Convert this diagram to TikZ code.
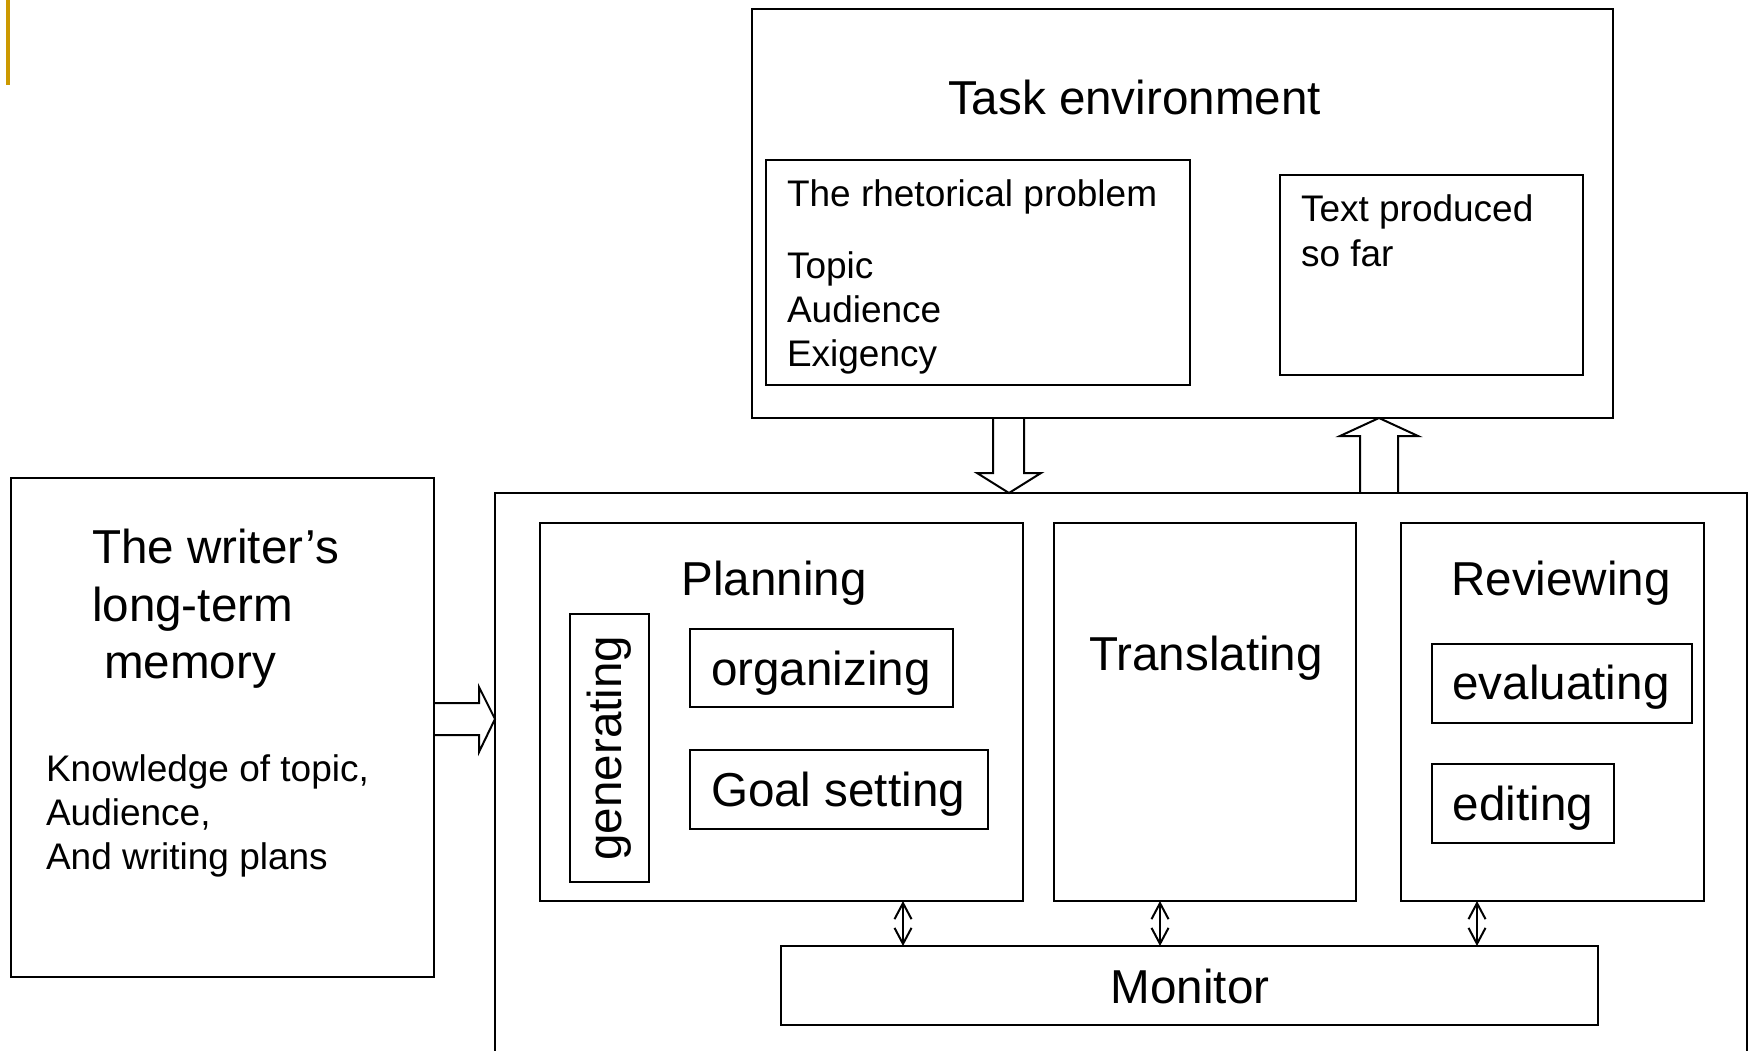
\documentclass[tikz,border=0pt]{standalone}
\usepackage{fontspec}
\setmainfont{Liberation Sans}
\usetikzlibrary{arrows.meta}
\definecolor{barcol}{HTML}{CC9900}
\begin{document}
\begin{tikzpicture}[x=1pt,y=-1pt,
  box/.style={draw, line width=2pt, inner sep=0pt, outer sep=0pt, anchor=north west},
  big/.style={font=\fontsize{47.6}{56}\selectfont},
  small/.style={font=\fontsize{37}{44}\selectfont},
  txt/.style={inner sep=0pt, outer sep=0pt},
  blockarrow/.style={draw, line width=2pt, line join=miter},
  dbl/.style={line width=2pt, {Straight Barb[length=16pt,width=17pt]}-{Straight Barb[length=16pt,width=17pt]}}
]
\useasboundingbox (0,0) rectangle (1752,1051);
\fill[white] (0,0) rectangle (1752,1051);
\fill[barcol] (6,0) rectangle (10,85);

% boxes
\node[box, minimum width=861pt, minimum height=409pt] (task) at (752,9) {};
\node[box, minimum width=424pt, minimum height=225pt] (rh) at (766,160) {};
\node[box, minimum width=303pt, minimum height=200pt] (tp) at (1280,175) {};
\node[box, minimum width=423pt, minimum height=499pt] (ltm) at (11,478) {};
\node[box, minimum width=1252pt, minimum height=620pt] (proc) at (495,493) {};
\node[box, minimum width=483pt, minimum height=378pt] (plan) at (540,523) {};
\node[box, minimum width=79pt, minimum height=268pt] (gen) at (570,614) {};
\node[box, minimum width=263pt, minimum height=78pt] (org) at (690,629) {};
\node[box, minimum width=298pt, minimum height=79pt] (goal) at (690,750) {};
\node[box, minimum width=302pt, minimum height=378pt] (trans) at (1054,523) {};
\node[box, minimum width=303pt, minimum height=378pt] (rev) at (1401,523) {};
\node[box, minimum width=260pt, minimum height=79pt] (eval) at (1432,644) {};
\node[box, minimum width=182pt, minimum height=79pt] (edit) at (1432,764) {};
\node[box, minimum width=817pt, minimum height=79pt] (mon) at (781,946) {};

% texts
\node[txt,big,anchor=base west] (tTask) at (948,115) {Task environment};
\node[txt,small,anchor=base west] (tRh) at (787,207) {The rhetorical problem};
\node[txt,small,anchor=base west] (tTopic) at (787,278) {Topic};
\node[txt,small,anchor=base west] (tAud) at (787,322) {Audience};
\node[txt,small,anchor=base west] (tExi) at (787,366) {Exigency};
\node[txt,small,anchor=base west] (tTp1) at (1301,222) {Text produced};
\node[txt,small,anchor=base west] (tTp2) at (1301,266) {so far};
\node[txt,big,anchor=base west] (tL1) at (92,563) {The writer’s};
\node[txt,big,anchor=base west] (tL2) at (92,621) {long-term};
\node[txt,big,anchor=base west] (tL3) at (104,678) {memory};
\node[txt,small,anchor=base west] (tK1) at (46,781) {Knowledge of topic,};
\node[txt,small,anchor=base west] (tK2) at (46,825) {Audience,};
\node[txt,small,anchor=base west] (tK3) at (46,869) {And writing plans};
\node[txt,big,anchor=base] (tPlan) at (774,595) {Planning};
\node[txt,big,rotate=90] (tGen) at (gen.center) {generating};
\node[txt,big,anchor=base] (tOrg) at (821,685) {organizing};
\node[txt,big,anchor=base] (tGoal) at (838,806) {Goal setting};
\node[txt,big,anchor=base] (tTrans) at (1206,670) {Translating};
\node[txt,big,anchor=base] (tRev) at (1561,595) {Reviewing};
\node[txt,big,anchor=base] (tEval) at (1561,699) {evaluating};
\node[txt,big,anchor=base] (tEdit) at (1523,820) {editing};
\node[txt,big,anchor=base] (tMon) at (1190,1003) {Monitor};

% block arrows
\draw[blockarrow] (task.south -| 993,0) -- (993,473) -- (977,473) -- (proc.north -| 1009,0)
   -- (1041,473) -- (1024,473) -- (task.south -| 1024,0);
\draw[blockarrow] (proc.north -| 1360,0) -- (1360,436) -- (1340,436) -- (task.south -| 1379,0)
   -- (1418,436) -- (1398,436) -- (proc.north -| 1398,0);
\draw[blockarrow] (ltm.east |- 0,703) -- (479,703) -- (479,687) -- (proc.west |- 0,719)
   -- (479,752) -- (479,735) -- (ltm.east |- 0,735);

% double arrows to monitor
\draw[dbl] (plan.south -| 903,0) -- (mon.north -| 903,0);
\draw[dbl] (trans.south -| 1160,0) -- (mon.north -| 1160,0);
\draw[dbl] (rev.south -| 1477,0) -- (mon.north -| 1477,0);
\end{tikzpicture}
\end{document}
